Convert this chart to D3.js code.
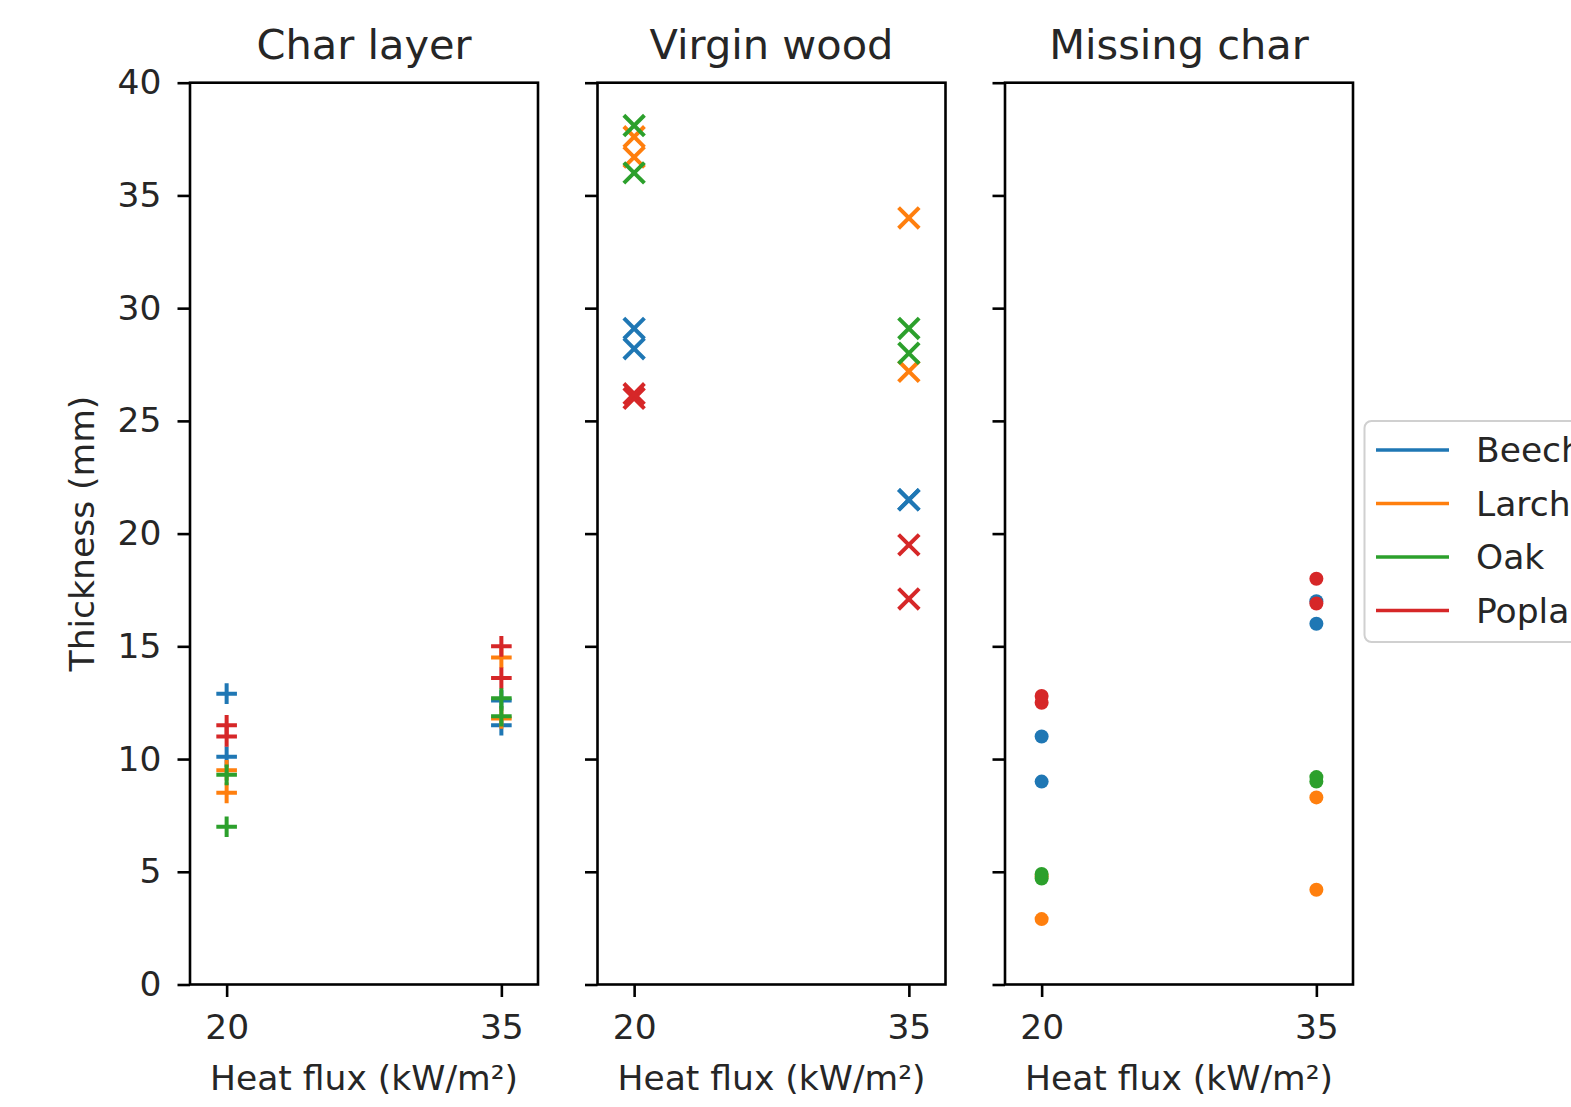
<!DOCTYPE html>
<html>
<head>
<meta charset="utf-8">
<script src="https://cdn.jsdelivr.net/npm/d3@7"></script>
<style>
  html, body { margin: 0; padding: 0; background: #fff; overflow: hidden; }
  svg { display: block; font-family: "DejaVu Sans", sans-serif; }
</style>
</head>
<body>
<svg id="chart" width="1571" height="1107"></svg>
<script>
// ---------- data ----------
const panelTitles = ["Char layer", "Virgin wood", "Missing char"];
const species = ["Beech", "Larch", "Oak", "Poplar"];
const speciesColors = ["#1f77b4", "#ff7f0e", "#2ca02c", "#d62728"];
const xTicks = [20, 35];
const yTicks = [0, 5, 10, 15, 20, 25, 30, 35, 40];
const sampleFlux = [20, 20, 35, 35];

// Char layer thickness (mm)
const charBeech  = [12.9, 10.1, 12.6, 11.5];
const charLarch  = [9.5, 8.5, 14.5, 11.8];
const charOak    = [9.3, 7.0, 12.7, 11.9];
const charPoplar = [11.5, 11.0, 15.0, 13.6];

// Virgin wood thickness (mm)
const virginBeech  = [28.2, 29.1, 21.5, 21.5];
const virginLarch  = [37.6, 36.7, 27.2, 34.0];
const virginOak    = [36.0, 38.1, 28.0, 29.1];
const virginPoplar = [26.0, 26.2, 17.1, 19.5];

// Missing char thickness (mm)
const missingBeech  = [9.0, 11.0, 16.0, 17.0];
const missingLarch  = [2.9, 4.8, 8.3, 4.2];
const missingOak    = [4.7, 4.9, 9.2, 9.0];
const missingPoplar = [12.5, 12.8, 18.0, 16.9];

const panelData = [
  [charBeech, charLarch, charOak, charPoplar],
  [virginBeech, virginLarch, virginOak, virginPoplar],
  [missingBeech, missingLarch, missingOak, missingPoplar]
];
const panelMarkers = ["plus", "x", "dot"];

// ---------- layout ----------
const svg = d3.select("#chart");
const plotTop = 82.7, plotBottom = 984.5;
const panelLefts = [190, 597.5, 1005];
const panelWidth = 348;
const fontTick = 34.5, fontLabel = 34.5, fontTitle = 41.5;
const tickLen = 12.5, lw = 2.6;

const y = d3.scaleLinear().domain([0, 40]).range([plotBottom, plotTop]);

panelLefts.forEach((left, p) => {
  const x = d3.scaleLinear().domain([18, 37]).range([left, left + panelWidth]);
  const g = svg.append("g");

  // markers
  panelData[p].forEach((vals, s) => {
    const color = speciesColors[s];
    const pts = vals.map((v, i) => [x(sampleFlux[i]), y(v)]);
    if (panelMarkers[p] === "dot") {
      g.selectAll(null).data(pts).enter().append("circle")
        .attr("cx", d => d[0]).attr("cy", d => d[1]).attr("r", 7)
        .attr("fill", color);
    } else {
      const h = 10.3;
      g.selectAll(null).data(pts).enter().append("path")
        .attr("d", d => panelMarkers[p] === "plus"
          ? `M${d[0]-h},${d[1]}H${d[0]+h}M${d[0]},${d[1]-h}V${d[1]+h}`
          : `M${d[0]-h},${d[1]-h}L${d[0]+h},${d[1]+h}M${d[0]-h},${d[1]+h}L${d[0]+h},${d[1]-h}`)
        .attr("stroke", color).attr("stroke-width", 4).attr("fill", "none");
    }
  });

  // frame
  g.append("rect").attr("x", left).attr("y", plotTop)
    .attr("width", panelWidth).attr("height", plotBottom - plotTop)
    .attr("fill", "none").attr("stroke", "#000").attr("stroke-width", lw);

  // x axis
  const xAxis = d3.axisBottom(x).tickValues(xTicks).tickSize(tickLen).tickPadding(18);
  const gx = g.append("g").attr("transform", `translate(0,${plotBottom})`).call(xAxis);
  gx.select(".domain").remove();
  gx.selectAll(".tick line").attr("stroke", "#000").attr("stroke-width", lw);
  gx.selectAll(".tick text").attr("font-size", fontTick).attr("fill", "#262626")
    .attr("font-family", "DejaVu Sans");

  // y axis
  const yAxis = d3.axisLeft(y).tickValues(yTicks).tickSize(tickLen).tickPadding(16);
  const gy = g.append("g").attr("transform", `translate(${left},0)`).call(yAxis);
  gy.select(".domain").remove();
  gy.selectAll(".tick line").attr("stroke", "#000").attr("stroke-width", lw);
  if (p === 0) {
    gy.selectAll(".tick text").attr("font-size", fontTick).attr("fill", "#262626")
      .attr("font-family", "DejaVu Sans");
  } else {
    gy.selectAll(".tick text").remove();
  }

  // title
  g.append("text").attr("x", left + panelWidth / 2).attr("y", 59)
    .attr("text-anchor", "middle").attr("font-size", fontTitle).attr("fill", "#262626")
    .text(panelTitles[p]);

  // x label
  g.append("text").attr("x", left + panelWidth / 2).attr("y", 1090)
    .attr("text-anchor", "middle").attr("font-size", fontLabel).attr("fill", "#262626")
    .text("Heat flux (kW/m²)");
});

// y label
svg.append("text")
  .attr("transform", `translate(94,${(plotTop + plotBottom) / 2}) rotate(-90)`)
  .attr("text-anchor", "middle").attr("font-size", fontLabel).attr("fill", "#262626")
  .text("Thickness (mm)");

// legend (partly outside the figure, as in the original)
const leg = svg.append("g");
leg.append("rect").attr("x", 1364.5).attr("y", 421).attr("width", 260).attr("height", 221)
  .attr("rx", 7).attr("fill", "#fff").attr("fill-opacity", 0.8)
  .attr("stroke", "#d0d0d0").attr("stroke-width", 2);
species.forEach((name, i) => {
  const ry = 450 + i * 53.5;
  leg.append("line").attr("x1", 1376).attr("x2", 1449).attr("y1", ry).attr("y2", ry)
    .attr("stroke", speciesColors[i]).attr("stroke-width", 3.6);
  leg.append("text").attr("x", 1476).attr("y", ry).attr("dy", "0.36em")
    .attr("font-size", fontLabel).attr("fill", "#262626").text(name);
});
</script>
</body>
</html>
